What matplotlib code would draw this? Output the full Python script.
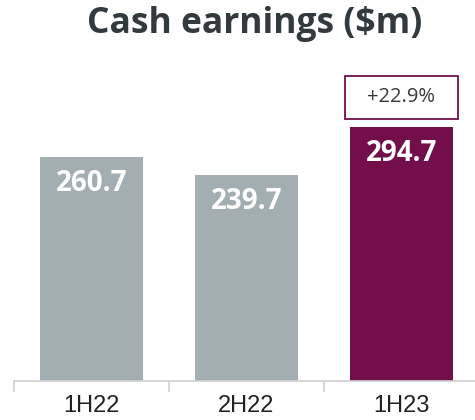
import matplotlib.pyplot as plt
from matplotlib.patches import Rectangle

periods = ['1H22', '2H22', '1H23']
cash_earnings = [260.7, 239.7, 294.7]
bar_colors = ['#a3aeb3', '#a3aeb3', '#720f4a']
growth_label = '+22.9%'

fig = plt.figure(figsize=(4.75, 4.2), dpi=100)
ax = fig.add_axes([14 / 475, 39 / 420, 465 / 475, 310 / 420])

x = list(range(len(periods)))
bars = ax.bar(x, cash_earnings, width=0.665, color=bar_colors)
ax.set_xlim(-0.5, 2.5)
ax.set_ylim(0, 360)

for b, v in zip(bars, cash_earnings):
    ax.text(b.get_x() + b.get_width() / 2, v - 31, f'{v:.1f}',
            ha='center', va='center', color='white', fontsize=20,
            fontweight='bold', family='Open Sans')

# growth box above last bar
last = bars[-1]
bx = last.get_x() - 0.03
bw = last.get_width() + 0.06
rect = Rectangle((bx, cash_earnings[-1] + 9), bw, 51, fill=False,
                 edgecolor='#720f4a', linewidth=1.3)
ax.add_patch(rect)
ax.text(2, cash_earnings[-1] + 35, growth_label, ha='center', va='center',
        fontsize=14.5, color='#3a3a3a', family='Open Sans')

for s in ['top', 'right', 'left']:
    ax.spines[s].set_visible(False)
ax.spines['bottom'].set_color('#d0d0d0')
ax.spines['bottom'].set_linewidth(1.2)
ax.set_yticks([])
ax.set_xticks(x)
ax.set_xticklabels(periods, fontsize=17, family='Liberation Sans', color='#222222')
ax.tick_params(axis='x', which='major', length=0, pad=10)
ax.set_xticks([-0.5, 0.5, 1.5, 2.5], minor=True)
ax.tick_params(axis='x', which='minor', length=8, color='#d0d0d0', width=1.2)

fig.text(255 / 475, 1 - 24 / 420, 'Cash earnings ($m)', ha='center', va='center',
         fontsize=25.5, fontweight='bold', family='Open Sans', color='#333a3d')

fig.savefig('out.png', dpi=100)
